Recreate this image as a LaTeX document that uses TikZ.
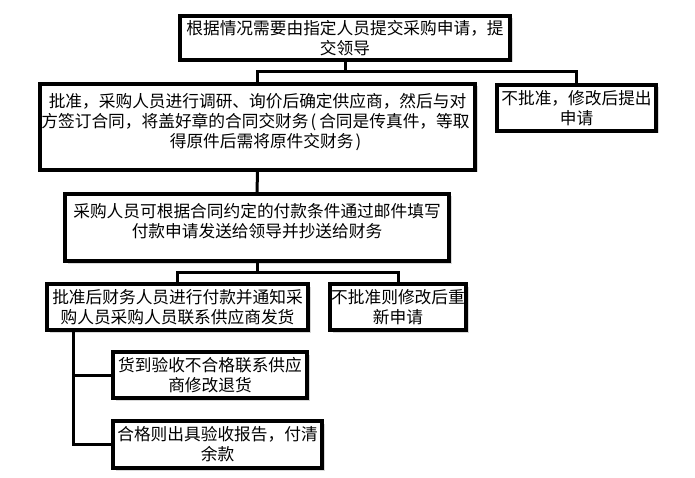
\documentclass[tikz,border=0pt]{standalone}
\usepackage{fontspec}
\newfontfamily\cjk{Noto Sans CJK SC}
\usetikzlibrary{shadows}
\newcommand\cl[1]{\hbox to\linewidth{\hss#1\hss}}
\newcommand\bxc[3]{\parbox[c][#2][c]{#1}{#3}}
\newcommand\bxt[4]{\parbox[c][#2][t]{#1}{\vspace*{#3}#4}}
\tikzset{
  box/.style={draw, line width=4pt, fill=white, inner sep=0pt,
    font=\cjk\fontsize{16.7pt}{20pt}\selectfont,
    drop shadow={shadow xshift=2.5pt, shadow yshift=-2.5pt, fill=black!30}},
  conn/.style={line width=3pt, line join=miter}
}
\begin{document}
\begin{tikzpicture}[x=1pt,y=-1pt]
\fill[white] (0,0) rectangle (695,478);
\useasboundingbox (0,0) rectangle (695,478);
\node[box] (b1) at (345,38) {\bxc{330pt}{44pt}{\cl{根据情况需要由指定人员提交采购申请，提}\cl{交领导}}};
\node[box] (b2) at (257.5,127) {\bxt{435pt}{86pt}{9.5pt}{\cl{批准，采购人员进行调研、询价后确定供应商，然后与对}\cl{\hspace{-4pt}方签订合同，将盖好章的合同交财务\kern2pt(\kern3pt合同是传真件，等取}\cl{\hspace{16pt}得原件后需将原件交财务\kern2pt)}}};
\node[box] (b3) at (576.5,108) {\bxc{159pt}{46pt}{\cl{不批准，修改后提出}\cl{申请}}};
\node[box] (b4) at (257,227.5) {\bxt{384pt}{67pt}{9.5pt}{\cl{采购人员可根据合同约定的付款条件通过邮件填写}\cl{付款申请发送给领导并抄送给财务}}};
\node[box] (b5) at (177.5,307) {\bxc{261pt}{46pt}{\cl{批准后财务人员进行付款并通知采}\cl{购人员采购人员联系供应商发货}}};
\node[box] (b6) at (398,307) {\bxc{136pt}{46pt}{\cl{不批准则修改后重}\cl{新申请}}};
\node[box] (b7) at (210,375) {\bxc{194pt}{46pt}{\cl{货到验收不合格联系供应}\cl{商修改退货}}};
\node[box] (b8) at (217.5,444.5) {\bxc{209pt}{47pt}{\cl{合格则出具验收报告，付清}\cl{余款}}};
\coordinate (j1) at (345,72);
\coordinate (j2) at (257,272);
\coordinate (k) at (73,0);
\draw[conn] (b1.south) -- (j1);
\draw[conn] (b2.north) |- (j1) -| (b3.north);
\draw[conn] (b2.south) -- (b4.north);
\draw[conn] (b4.south) -- (j2);
\draw[conn] (b5.north) |- (j2) -| (b6.north);
\draw[conn] (b5.south -| k) |- (b8.west);
\draw[conn] (b7.west -| k) -- (b7.west);
\end{tikzpicture}
\end{document}
